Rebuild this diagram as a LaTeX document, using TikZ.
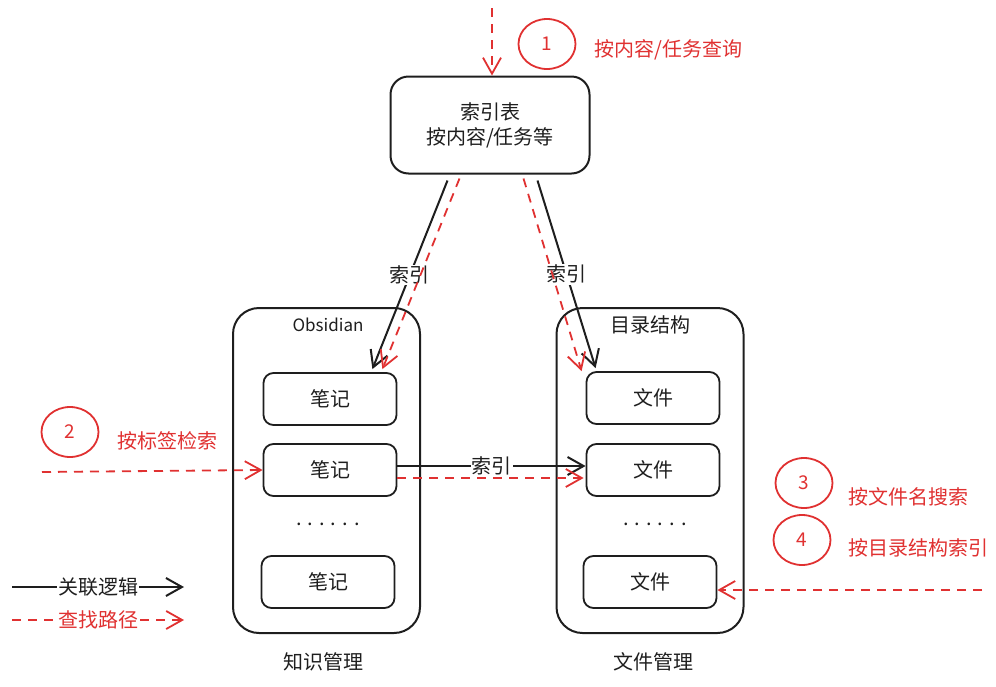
\documentclass[tikz,border=0pt]{standalone}
\usepackage{fontspec}
\setmainfont{Noto Sans CJK SC}
\usetikzlibrary{arrows.meta,positioning,shapes.geometric}
\definecolor{inkblack}{HTML}{1E1E1E}
\definecolor{inkred}{HTML}{E03131}
\begin{document}
\begin{tikzpicture}[x=1pt, y=-1pt,
  every node/.style={font=\fontsize{20}{25}\selectfont, text=inkblack, align=center},
  bigbox/.style={draw=inkblack, line width=2pt, rounded corners=18pt, minimum width=199pt, minimum height=97pt},
  groupbox/.style={draw=inkblack, line width=2pt, rounded corners=26pt, minimum width=187pt, minimum height=325pt},
  itembox/.style={draw=inkblack, line width=1.8pt, rounded corners=10pt, minimum width=133pt, minimum height=52pt},
  numring/.style={ellipse, draw=inkred, line width=1.8pt, minimum width=57pt, minimum height=50pt, inner sep=0pt, text=inkred, font=\fontsize{19}{22}\selectfont},
  redtext/.style={text=inkred},
  tag/.style={fill=white, inner sep=1pt},
  link/.style={draw=inkblack, line width=2pt, -{Straight Barb[length=16pt,width=18pt,line width=2pt]}},
  searchpath/.style={draw=inkred, line width=1.8pt, dash pattern=on 9pt off 7pt, -{Straight Barb[length=16pt,width=18pt,line width=1.8pt]}},
]
\useasboundingbox (0,0) rectangle (996,686);
\node[groupbox] (kb) at (326.5,470.5) {};
\node[groupbox] (fb) at (650,470.5) {};
\node[bigbox] (idx) at (490,125) {索引表\\按内容/任务等};
\node[font=\fontsize{17}{19}\selectfont] (obs) at (328,325) {Obsidian};
\node (dir) at (650,325) {目录结构};
\node[itembox] (n1) at (330,399) {笔记};
\node[itembox] (n2) at (330,470) {笔记};
\node (ndots) at (328,524) {. . . . . .};
\node[itembox] (n3) at (328,582) {笔记};
\node[itembox] (f1) at (653,398) {文件};
\node[itembox] (f2) at (653,470) {文件};
\node (fdots) at (655,524) {. . . . . .};
\node[itembox] (f3) at (650,582) {文件};
\node (kbname) at (323,662) {知识管理};
\node (fbname) at (653,662) {文件管理};
\node[numring] (c1) at (547,44) {1};
\node[numring] (c2) at (70,432) {2};
\node[numring] (c3) at (804,483) {3};
\node[numring] (c4) at (802,540) {4};
\node[redtext, anchor=west] (q1) at (591,50) {按内容/任务查询};
\node[redtext, anchor=west] (q2) at (114,441) {按标签检索};
\node[redtext, anchor=west] (q3) at (845,497) {按文件名搜索};
\node[redtext, anchor=west] (q4) at (845,548) {按目录结构索引};
\draw[link] ([xshift=58pt,yshift=-6pt]idx.south west) -- node[tag] (e1) {索引} ([xshift=-25pt,yshift=3pt]n1.north east);
\draw[link] ([xshift=148pt,yshift=-6pt]idx.south west) -- node[tag] (e2) {索引} ([xshift=10pt,yshift=3pt]f1.north west);
\draw[link] ([yshift=4pt]n2.east) -- node[tag] (e3) {索引} ([yshift=4pt]f2.west);
\draw[searchpath] ([xshift=70pt,yshift=-4pt]idx.south west) -- ([xshift=-15pt,yshift=3pt]n1.north east);
\draw[searchpath] ([xshift=134pt,yshift=-4pt]idx.south west) -- ([xshift=-4pt]f1.north west);
\draw[searchpath] ([yshift=-8pt]n2.east) -- ([xshift=-2pt,yshift=-8pt]f2.west);
\coordinate (qin) at (492,8);
\draw[searchpath] (qin) -- ([xshift=2pt]idx.north);
\coordinate (tagin) at (42,472);
\draw[searchpath] (tagin) -- (n2.west);
\coordinate (dirin) at (982,590);
\draw[searchpath] (dirin) -- ([yshift=-8pt]f3.east);
\coordinate (lk1) at (12,587);
\coordinate (lk2) at (184,587);
\draw[link] (lk1) -- node[tag] (lktext) {关联逻辑} (lk2);
\coordinate (ls1) at (12,620);
\coordinate (ls2) at (184,620);
\draw[searchpath] (ls1) -- node[tag, redtext] (lstext) {查找路径} (ls2);
\end{tikzpicture}
\end{document}
